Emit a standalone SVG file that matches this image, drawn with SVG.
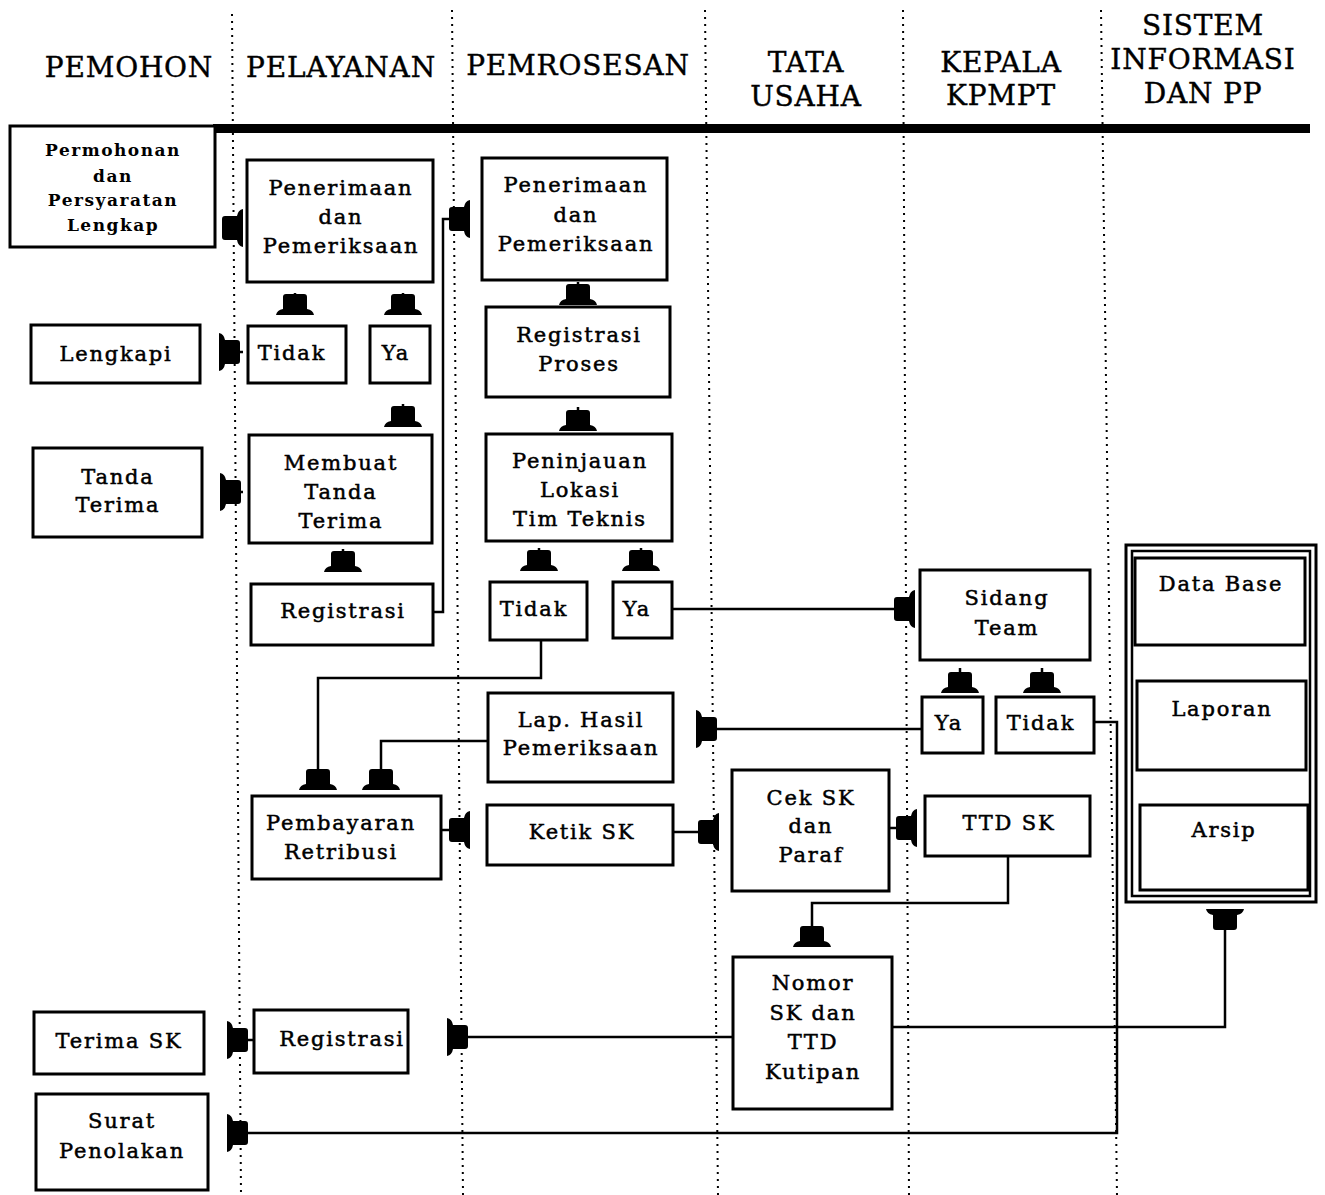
<svg xmlns="http://www.w3.org/2000/svg" width="1325" height="1195" viewBox="0 0 1325 1195">
<style>
.box{fill:#fff;stroke:#000;stroke-width:3}
.t{font-family:"DejaVu Serif","Liberation Serif",serif;font-size:21px;letter-spacing:1.8px;text-anchor:middle;fill:#000;stroke:#000;stroke-width:0.5}
.sb{font-family:"DejaVu Serif","Liberation Serif",serif;font-size:17px;font-weight:bold;letter-spacing:1.5px;text-anchor:middle;fill:#000}
.h{font-family:"DejaVu Serif","Liberation Serif",serif;font-size:28px;letter-spacing:0.8px;text-anchor:middle;fill:#000;stroke:#000;stroke-width:0.4}
.lane{stroke:#000;stroke-width:2;stroke-dasharray:2 5;fill:none}
.c{fill:none;stroke:#000;stroke-width:2.5;marker-end:url(#ah)}
</style>
<defs>
<marker id="ah" viewBox="-22 -21 23 42" refX="0" refY="0" markerWidth="23" markerHeight="42" markerUnits="userSpaceOnUse" orient="auto">
<path d="M-21,-9 Q-21,-12 -18,-12 L-6,-12 Q-5,-18 0,-19 L0,19 Q-5,18 -6,12 L-18,12 Q-21,12 -21,9 Z" fill="#000"/>
</marker>
</defs>
<rect width="1325" height="1195" fill="#fff"/>

<g id="lanes">
<path class="lane" d="M232,14 L241,1195"/>
<path class="lane" d="M452,10 L463,1195"/>
<path class="lane" d="M705,10 L718,1195"/>
<path class="lane" d="M903,10 L909,1195"/>
<path class="lane" d="M1101,10 L1117,1195"/>
</g>

<g id="headers">
<text class="h" x="129" y="77">PEMOHON</text>
<text class="h" x="341" y="77">PELAYANAN</text>
<text class="h" x="578" y="75">PEMROSESAN</text>
<text class="h" x="806" y="72">TATA</text>
<text class="h" x="806" y="106">USAHA</text>
<text class="h" x="1001" y="72">KEPALA</text>
<text class="h" x="1001" y="105">KPMPT</text>
<text class="h" x="1203" y="35">SISTEM</text>
<text class="h" x="1203" y="69">INFORMASI</text>
<text class="h" x="1203" y="103">DAN PP</text>
<rect x="213" y="124" width="1097" height="9" fill="#000"/>
</g>

<g id="connectors">
<path class="c" d="M222,228 H243"/>
<path class="c" d="M295,293 V315"/>
<path class="c" d="M403,293 V315"/>
<path class="c" d="M243,352 H219"/>
<path class="c" d="M403,404 V427"/>
<path class="c" d="M243,492 H220"/>
<path class="c" d="M343,549 V572"/>
<path class="c" d="M433,612 H443 V219 H470"/>
<path class="c" d="M578,282 V305"/>
<path class="c" d="M578,407 V431"/>
<path class="c" d="M539,548 V571"/>
<path class="c" d="M641,548 V571"/>
<path class="c" d="M672,609 H915"/>
<path class="c" d="M541,640 V678 H318 V790"/>
<path class="c" d="M488,741 H381 V790"/>
<path class="c" d="M960,668 V693"/>
<path class="c" d="M1042,668 V693"/>
<path class="c" d="M922,729 H696"/>
<path class="c" d="M1094,722 H1117 V1133 H227"/>
<path class="c" d="M441,830 H470"/>
<path class="c" d="M673,832 H719"/>
<path class="c" d="M889,828 H917"/>
<path class="c" d="M1008,856 V903 H812 V947"/>
<path class="c" d="M733,1037 H447"/>
<path class="c" d="M254,1040 H227"/>
<path class="c" d="M892,1027 H1225 V909"/>
<path class="c" d="M1221,803 V776"/>
<path class="c" d="M1221,680 V653"/>
</g>

<g id="n-permohonan">
<rect class="box" x="10" y="126" width="205" height="121"/>
<text class="sb" x="113" y="156">Permohonan</text>
<text class="sb" x="113" y="182">dan</text>
<text class="sb" x="113" y="206">Persyaratan</text>
<text class="sb" x="113" y="231">Lengkap</text>
</g>
<g id="n-penerimaan1">
<rect class="box" x="247" y="160" width="186" height="122"/>
<text class="t" x="341" y="195">Penerimaan</text>
<text class="t" x="341" y="224">dan</text>
<text class="t" x="341" y="253">Pemeriksaan</text>
</g>
<g id="n-lengkapi">
<rect class="box" x="31" y="325" width="169" height="58"/>
<text class="t" x="116" y="361">Lengkapi</text>
</g>
<g id="n-tidak1">
<rect class="box" x="248" y="326" width="98" height="57"/>
<text class="t" x="292" y="360">Tidak</text>
</g>
<g id="n-ya1">
<rect class="box" x="370" y="326" width="60" height="57"/>
<text class="t" x="396" y="360">Ya</text>
</g>
<g id="n-tandaterima">
<rect class="box" x="33" y="448" width="169" height="89"/>
<text class="t" x="118" y="484">Tanda</text>
<text class="t" x="118" y="512">Terima</text>
</g>
<g id="n-membuat">
<rect class="box" x="249" y="435" width="183" height="108"/>
<text class="t" x="341" y="470">Membuat</text>
<text class="t" x="341" y="499">Tanda</text>
<text class="t" x="341" y="528">Terima</text>
</g>
<g id="n-registrasi1">
<rect class="box" x="251" y="584" width="182" height="61"/>
<text class="t" x="343" y="618">Registrasi</text>
</g>
<g id="n-penerimaan2">
<rect class="box" x="482" y="158" width="185" height="122"/>
<text class="t" x="576" y="192">Penerimaan</text>
<text class="t" x="576" y="222">dan</text>
<text class="t" x="576" y="251">Pemeriksaan</text>
</g>
<g id="n-regproses">
<rect class="box" x="486" y="307" width="184" height="90"/>
<text class="t" x="579" y="342">Registrasi</text>
<text class="t" x="579" y="371">Proses</text>
</g>
<g id="n-peninjauan">
<rect class="box" x="486" y="434" width="186" height="107"/>
<text class="t" x="580" y="468">Peninjauan</text>
<text class="t" x="580" y="497">Lokasi</text>
<text class="t" x="580" y="526">Tim Teknis</text>
</g>
<g id="n-tidak2">
<rect class="box" x="490" y="582" width="97" height="58"/>
<text class="t" x="534" y="616">Tidak</text>
</g>
<g id="n-ya2">
<rect class="box" x="613" y="582" width="59" height="56"/>
<text class="t" x="637" y="616">Ya</text>
</g>
<g id="n-sidang">
<rect class="box" x="920" y="570" width="170" height="90"/>
<text class="t" x="1007" y="605">Sidang</text>
<text class="t" x="1007" y="635">Team</text>
</g>
<g id="n-ya3">
<rect class="box" x="922" y="697" width="61" height="56"/>
<text class="t" x="949" y="730">Ya</text>
</g>
<g id="n-tidak3">
<rect class="box" x="996" y="697" width="98" height="56"/>
<text class="t" x="1041" y="730">Tidak</text>
</g>
<g id="n-laphasil">
<rect class="box" x="488" y="693" width="185" height="89"/>
<text class="t" x="581" y="727">Lap. Hasil</text>
<text class="t" x="581" y="755">Pemeriksaan</text>
</g>
<g id="n-pembayaran">
<rect class="box" x="252" y="796" width="189" height="83"/>
<text class="t" x="341" y="830">Pembayaran</text>
<text class="t" x="341" y="859">Retribusi</text>
</g>
<g id="n-ketiksk">
<rect class="box" x="487" y="805" width="186" height="60"/>
<text class="t" x="582" y="839">Ketik SK</text>
</g>
<g id="n-ceksk">
<rect class="box" x="732" y="770" width="157" height="121"/>
<text class="t" x="811" y="805">Cek SK</text>
<text class="t" x="811" y="833">dan</text>
<text class="t" x="811" y="862">Paraf</text>
</g>
<g id="n-ttdsk">
<rect class="box" x="925" y="796" width="165" height="60"/>
<text class="t" x="1009" y="830">TTD SK</text>
</g>
<g id="n-sistem">
<rect class="box" x="1126" y="545" width="190" height="357"/>
<rect fill="none" stroke="#000" stroke-width="2.5" x="1132" y="551" width="178" height="345"/>
</g>
<g id="n-database">
<rect class="box" x="1135" y="558" width="170" height="87"/>
<text class="t" x="1221" y="591">Data Base</text>
</g>
<g id="n-laporan">
<rect class="box" x="1137" y="681" width="169" height="89"/>
<text class="t" x="1222" y="716">Laporan</text>
</g>
<g id="n-arsip">
<rect class="box" x="1140" y="805" width="168" height="85"/>
<text class="t" x="1224" y="837">Arsip</text>
</g>
<g id="n-nomor">
<rect class="box" x="733" y="957" width="159" height="152"/>
<text class="t" x="813" y="990">Nomor</text>
<text class="t" x="813" y="1020">SK dan</text>
<text class="t" x="813" y="1049">TTD</text>
<text class="t" x="813" y="1079">Kutipan</text>
</g>
<g id="n-terimask">
<rect class="box" x="34" y="1012" width="170" height="62"/>
<text class="t" x="119" y="1048">Terima SK</text>
</g>
<g id="n-registrasi2">
<rect class="box" x="254" y="1010" width="154" height="63"/>
<text class="t" x="342" y="1046">Registrasi</text>
</g>
<g id="n-surat">
<rect class="box" x="36" y="1094" width="172" height="96"/>
<text class="t" x="122" y="1128">Surat</text>
<text class="t" x="122" y="1158">Penolakan</text>
</g>
</svg>
